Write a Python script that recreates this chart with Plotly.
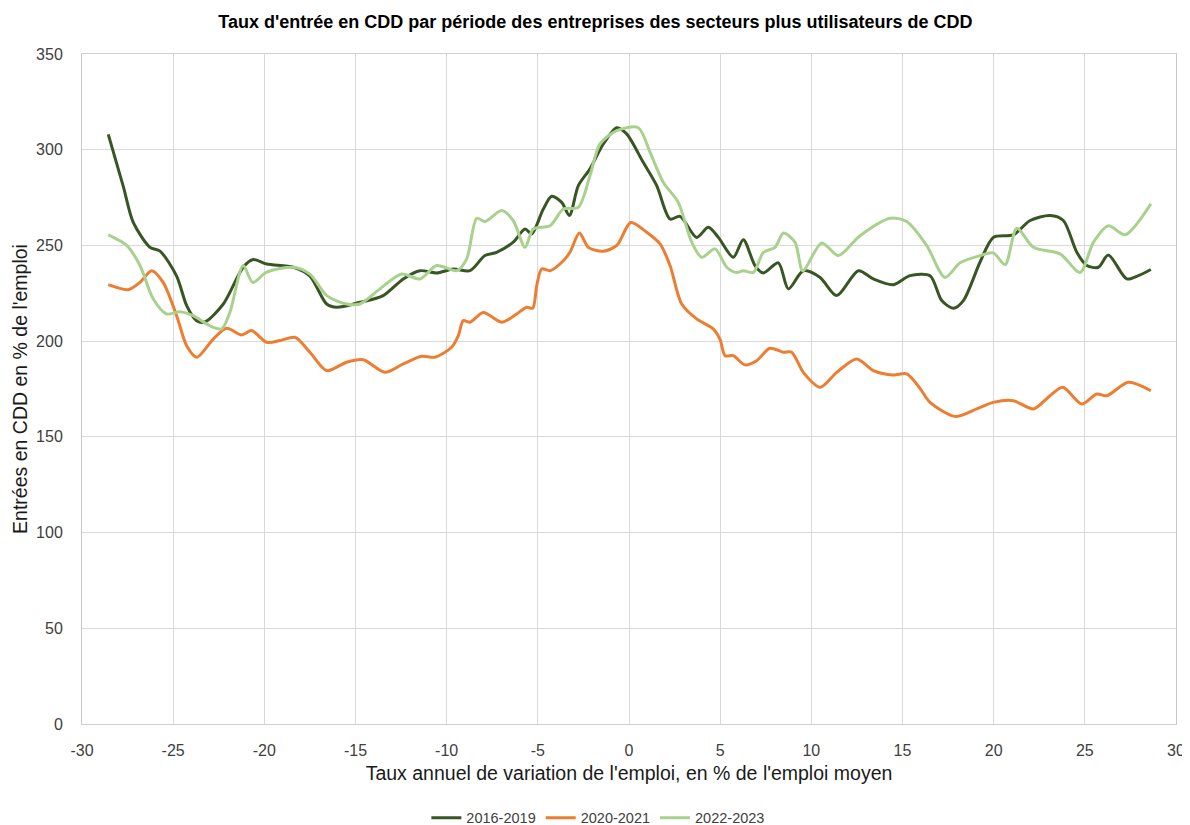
import plotly.graph_objects as go

# 2016-2019
x_2016 = [-28.56, -27.74, -27.19, -26.27, -25.72, -24.81, -24.26, -23.71, -23.26, -22.25, -21.16, -20.61,
          -19.87, -18.41, -17.5, -16.58, -16.03, -14.76, -13.48, -12.38, -11.46, -10.55, -9.64, -8.72,
          -7.9, -7.26, -6.35, -5.7, -5.34, -4.7, -4.24, -3.69, -3.27, -2.78, -2.14, -1.41, -0.67, -0.13,
          0.78, 1.52, 2.25, 2.8, 3.71, 4.35, 4.9, 5.72, 6.27, 6.91, 7.37, 8.19, 8.74, 9.56, 10.48, 11.39,
          12.58, 13.4, 14.5, 15.41, 16.51, 17.15, 17.79, 18.34, 19.25, 19.98, 21.08, 22.0, 23.09, 23.82,
          24.56, 25.11, 25.74, 26.29, 27.3, 27.94, 28.62]
y_2016 = [308, 281, 262, 249, 247, 234, 218.6, 210.7, 210, 219.4, 238.6, 242.6,
          240.3, 238.6, 234, 219.4, 217.7, 220.3, 223.8, 232.5, 236.8, 235.6, 237.7, 236.8,
          244.7, 246.4, 251.7, 258.6, 256, 269, 275.7, 272.5, 265.6, 281.2, 290, 303, 311.5, 308.3,
          293.4, 281.2, 263.8, 265.2, 254.2, 259.5, 254.2, 243.8, 253, 239.5, 235.6, 240.9, 227.3, 236.8, 233.3, 223.8,
          236.8, 232.5, 229.5, 234.2, 234.2, 221.2, 217.2, 221.2, 241.2, 254.2, 255.5, 263, 265.6, 263,
          246.4, 239.5, 238.6, 245, 232.5, 234.2, 237.4]

# 2020-2021
x_2020 = [-28.56, -27.46, -26.82, -26.18, -25.55, -24.81, -24.26, -23.71, -22.8, -22.07, -21.25, -20.7,
          -19.87, -19.14, -18.32, -17.5, -16.58, -15.49, -14.58, -13.38, -12.38, -11.37, -10.64, -9.73,
          -9.36, -9.09, -8.72, -7.99, -6.98, -6.16, -5.61, -5.28, -5.06, -4.79, -4.33, -3.6, -3.24, -2.72,
          -2.23, -1.41, -0.67, 0.1, 0.97, 1.7, 2.25, 2.89, 3.71, 4.62, 4.99, 5.27, 5.72, 6.36, 7.0, 7.73,
          8.46, 8.92, 9.56, 10.48, 11.39, 12.49, 13.4, 14.5, 15.23, 15.96, 16.51, 17.88, 19.07, 19.98,
          21.08, 22.18, 23.09, 23.79, 24.83, 25.65, 26.2, 27.39, 28.62]
y_2020 = [229.5, 226.9, 230.7, 236.8, 230.7, 213.3, 197.6, 191.6, 201.1, 206.7, 203.2, 205.5,
          199.4, 200.3, 202, 194.2, 184.6, 189, 190.3, 183.7, 188.1, 192.1, 191.6, 196.8,
          202.9, 210.7, 209.9, 215, 209.9, 214.2, 217.7, 217.2, 229, 237.7, 236.8, 242, 246.4, 256.5,
          249, 247, 250, 262, 256.9, 250.8, 239.5, 219.4, 211.6, 206.4, 201.1, 192.4, 192.4, 187.6, 189.8, 196.3,
          194.2, 194.2, 183.7, 175.9, 183.7, 190.7, 184.6, 182.3, 182.9, 175.3, 168, 160.7, 164.6, 168,
          168.9, 164.6, 171.5, 175.9, 167.2, 172.4, 171.5, 178.5, 174.1]

# 2022-2023
x_2022 = [-28.56, -27.55, -26.82, -26.09, -25.36, -24.63, -23.9, -22.98, -22.34, -21.89, -21.16, -20.64,
          -19.87, -18.41, -17.5, -16.58, -15.49, -14.76, -13.66, -12.47, -11.46, -10.55, -9.45, -8.9,
          -8.35, -7.9, -6.98, -6.35, -5.7, -5.25, -4.33, -3.6, -2.78, -2.14, -1.59, -0.67, 0.51,
          1.15, 1.88, 2.7, 3.44, 3.99, 4.72, 5.36, 5.91, 6.27, 6.82, 7.37, 8.01, 8.47, 9.11, 9.53,
          10.57, 11.48, 12.67, 14.32, 15.23, 16.33, 17.33, 18.16, 19.25, 19.98, 20.63, 21.27, 22.18,
          23.64, 24.74, 25.47, 26.29, 27.21, 28.62]
y_2022 = [255.5, 250, 239.5, 222, 214.2, 215.4, 213.3, 208, 206.4, 215, 239.5, 230.7,
          236, 238.6, 235, 223.8, 219.4, 219.4, 227.3, 235.1, 232.5, 239.5, 236.8, 243,
          264.2, 262.5, 268.2, 263, 249, 258.6, 260.3, 269, 269.9, 286.5, 303, 310, 311.5,
          298.7, 283, 272.5, 251.7, 243.8, 248.2, 238.6, 235.8, 236.8, 235.9, 246.4, 249, 256.5, 251.6, 236.8,
          251.3, 244.7, 255.1, 264.2, 262.5, 249.9, 233.3, 240.9, 244.7, 246.1, 240, 259, 249,
          245.6, 235.9, 251.6, 260.3, 255.6, 271.7]

x_ticks = list(range(-30, 31, 5))
x_tick_labels = [str(v) for v in x_ticks]
y_ticks = list(range(0, 351, 50))
y_tick_labels = [str(v) for v in y_ticks]

series = [
    ("2016-2019", x_2016, y_2016, "#375623"),
    ("2020-2021", x_2020, y_2020, "#ED7D31"),
    ("2022-2023", x_2022, y_2022, "#A9D18E"),
]

fig = go.Figure()
for name, xs, ys, col in series:
    fig.add_trace(go.Scatter(x=xs, y=ys, name=name, mode="lines",
                             line=dict(color=col, width=3, shape="spline", smoothing=0.8)))

font_fam = "Liberation Sans, Arial, sans-serif"
# page body has an 8px margin, so the figure is sized to fit the visible window
fig.update_layout(
    width=1182, height=817,
    paper_bgcolor="white", plot_bgcolor="white",
    margin=dict(l=74, r=14, t=46, b=101, autoexpand=False),
    font=dict(family=font_fam, color="#404040", size=16),
    title=dict(text="<b>Taux d'entrée en CDD par période des entreprises des secteurs plus utilisateurs de CDD</b>",
               x=0.497, xanchor="center", y=0.983, yanchor="middle",
               font=dict(size=18, color="#000000", family=font_fam)),
    showlegend=True,
    legend=dict(orientation="h", x=0.472, xanchor="center", y=-0.140, yanchor="middle",
                font=dict(size=14.5, color="#404040"), itemwidth=30, tracegroupgap=0),
)
fig.update_xaxes(range=[-30, 30], tickvals=x_ticks, ticktext=x_tick_labels, showgrid=True, gridcolor="#d9d9d9",
                 gridwidth=1, zeroline=False, showline=True, linecolor="#d0d0d0", mirror=True,
                 ticks="", ticklabelstandoff=12, automargin=False, tickfont=dict(size=16, color="#404040"),
                 title=dict(text="Taux annuel de variation de l'emploi, en % de l'emploi moyen",
                            font=dict(size=19.5, color="#1a1a1a"), standoff=8))
fig.update_yaxes(range=[0, 350], tickvals=y_ticks, ticktext=y_tick_labels, showgrid=True, gridcolor="#d9d9d9",
                 gridwidth=1, zeroline=False, showline=True, linecolor="#c8c8c8", mirror=True,
                 ticks="", ticklabelstandoff=15, automargin=False, tickfont=dict(size=16, color="#404040"),
                 title=dict(text="Entrées en CDD en % de l'emploi", font=dict(size=19.5, color="#1a1a1a"), standoff=3))

fig.write_html("out.html")
